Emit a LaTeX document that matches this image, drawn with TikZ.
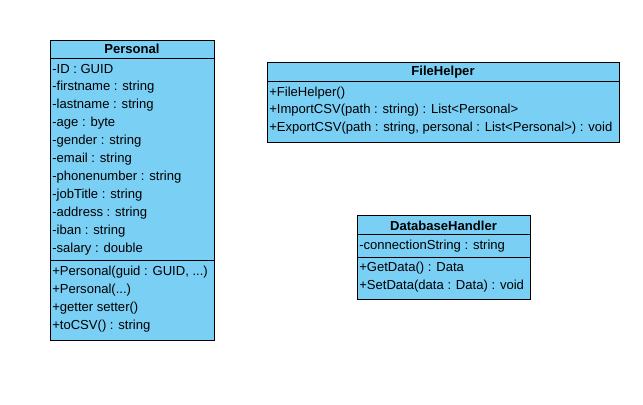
\documentclass[tikz,border=0pt]{standalone}
\usepackage{fontspec}
\setmainfont{Liberation Sans}
\definecolor{umlfill}{RGB}{122,207,245}
\begin{document}
\begin{tikzpicture}[x=0.75pt,y=-0.75pt,
  cls/.style={draw=black,fill=umlfill,line width=0.75pt},
  sep/.style={draw=black,line width=0.75pt},
  item/.style={anchor=west,inner sep=0pt,font=\fontsize{9.8}{11}\selectfont},
  title/.style={anchor=center,inner sep=0pt,font=\fontsize{9.8}{11}\selectfont\bfseries}]
\useasboundingbox (0,0) rectangle (643,404);
% Personal
\path[cls] (50,40) rectangle (214,340);
\coordinate (p1l) at (50,58); \coordinate (p1r) at (214,58);
\coordinate (p2l) at (50,260); \coordinate (p2r) at (214,260);
\draw[sep] (p1l) -- (p1r);
\draw[sep] (p2l) -- (p2r);
\node[title] (pt) at (132,49.3) {Personal};
\node[item] (pa1) at (52,69.3) {-ID : GUID};
\node[item] (pa2) at (52,87.3) {-firstname : string};
\node[item] (pa3) at (52,105.3) {-lastname : string};
\node[item] (pa4) at (52,123.3) {-age : byte};
\node[item] (pa5) at (52,141.3) {-gender : string};
\node[item] (pa6) at (52,159.3) {-email : string};
\node[item] (pa7) at (52,177.3) {-phonenumber : string};
\node[item] (pa8) at (52,195.3) {-jobTitle : string};
\node[item] (pa9) at (52,213.3) {-address : string};
\node[item] (pa10) at (52,231.3) {-iban : string};
\node[item] (pa11) at (52,249.3) {-salary : double};
\node[item] (pm1) at (52,272.3) {+Personal(guid : GUID, ...)};
\node[item] (pm2) at (52,290.2) {+Personal(...)};
\node[item] (pm3) at (52,308.1) {+getter setter()};
\node[item] (pm4) at (52,326) {+toCSV() : string};
% FileHelper
\path[cls] (267,62) rectangle (619,142);
\coordinate (f1l) at (267,81); \coordinate (f1r) at (619,81);
\draw[sep] (f1l) -- (f1r);
\node[title] (ft) at (443,72.3) {FileHelper};
\node[item] (fm1) at (269,93.3) {+FileHelper()};
\node[item] (fm2) at (269,110.5) {+ImportCSV(path : string) : List<Personal>};
\node[item] (fm3) at (269,127.7) {+ExportCSV(path : string, personal : List<Personal>) : void};
% DatabaseHandler
\path[cls] (357,215) rectangle (530,299);
\coordinate (d1l) at (357,234); \coordinate (d1r) at (530,234);
\coordinate (d2l) at (357,257); \coordinate (d2r) at (530,257);
\draw[sep] (d1l) -- (d1r);
\draw[sep] (d2l) -- (d2r);
\node[title] (dt) at (443.5,225.7) {DatabaseHandler};
\node[item] (da1) at (359,246) {-connectionString : string};
\node[item] (dm1) at (359,268) {+GetData() : Data};
\node[item] (dm2) at (359,286) {+SetData(data : Data) : void};
\end{tikzpicture}
\end{document}
